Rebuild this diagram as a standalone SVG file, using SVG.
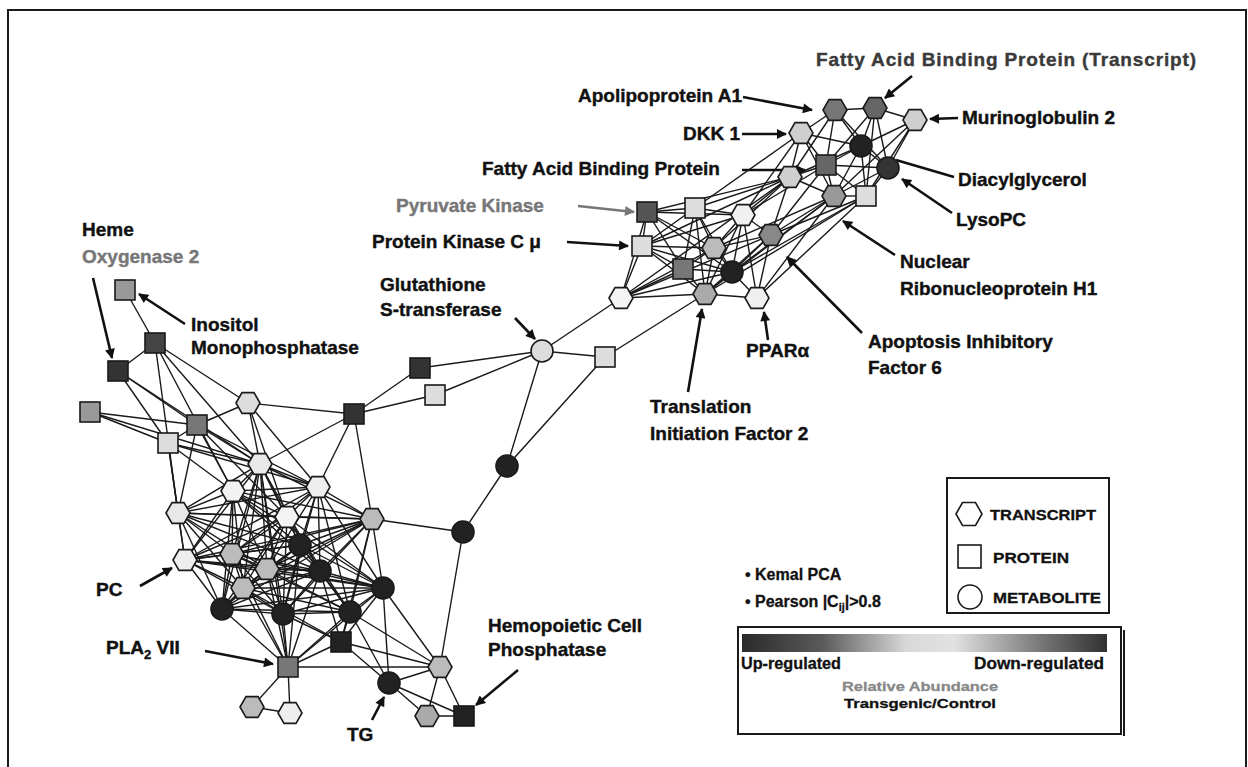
<svg xmlns="http://www.w3.org/2000/svg" xmlns:xlink="http://www.w3.org/1999/xlink" width="1248" height="767" viewBox="0 0 1248 767">
<style>
.lbl{font-family:"Liberation Sans",Arial,sans-serif;font-weight:bold;font-size:19px;fill:#111;stroke:#111;stroke-width:0.4}
.lbl .gl{fill:#777;stroke:#777}
.lbl .dl{fill:#3a3a3a;stroke:#3a3a3a}
.edges line{stroke:#1a1a1a;stroke-width:1.4}
.arr line{stroke:#111;stroke-width:2.6}
.node{stroke:#1a1a1a;stroke-width:1.6}
.lg{font-family:"Liberation Sans",Arial,sans-serif;font-weight:bold;fill:#111;stroke:#111;stroke-width:0.3}
</style>
<defs>
<polygon id="hex" points="-12,0 -6,-10.4 6,-10.4 12,0 6,10.4 -6,10.4"/>
<polygon id="lhex" points="-13,0 -6.5,-11.5 6.5,-11.5 13,0 6.5,11.5 -6.5,11.5"/>
<rect id="sq" x="-10" y="-10" width="20" height="20"/>
<circle id="met" r="11"/>
<marker id="ah" viewBox="0 0 10 10" refX="9" refY="5" markerUnits="userSpaceOnUse" markerWidth="12" markerHeight="10" orient="auto"><path d="M0,0 L10,5 L0,10 z" fill="#111"/></marker>
<marker id="ahg" viewBox="0 0 10 10" refX="9" refY="5" markerUnits="userSpaceOnUse" markerWidth="12" markerHeight="10" orient="auto"><path d="M0,0 L10,5 L0,10 z" fill="#777"/></marker>
<linearGradient id="grad" x1="0" y1="0" x2="1" y2="0">
<stop offset="0" stop-color="#2a2a2a"/><stop offset="0.22" stop-color="#5a5a5a"/><stop offset="0.45" stop-color="#d8d8d8"/><stop offset="0.58" stop-color="#e2e2e2"/><stop offset="0.82" stop-color="#777"/><stop offset="1" stop-color="#303030"/>
</linearGradient>
</defs>
<rect width="1248" height="767" fill="#fff"/>
<g id="frame" stroke="#1a1a1a" stroke-width="2" fill="none"><path d="M8,767 L8,10 L1246,10 L1246,767"/></g>

<g id="connectors" class="edges">
<line x1="835" y1="110" x2="875" y2="108"/><line x1="835" y1="110" x2="801" y2="133"/><line x1="835" y1="110" x2="861" y2="146"/><line x1="835" y1="110" x2="826" y2="165"/><line x1="835" y1="110" x2="888" y2="168"/><line x1="835" y1="110" x2="790" y2="177"/>
<line x1="875" y1="108" x2="915" y2="120"/><line x1="875" y1="108" x2="861" y2="146"/><line x1="875" y1="108" x2="826" y2="165"/><line x1="875" y1="108" x2="888" y2="168"/><line x1="875" y1="108" x2="866" y2="196"/>
<line x1="915" y1="120" x2="861" y2="146"/><line x1="915" y1="120" x2="888" y2="168"/><line x1="915" y1="120" x2="834" y2="196"/><line x1="915" y1="120" x2="866" y2="196"/>
<line x1="801" y1="133" x2="861" y2="146"/><line x1="801" y1="133" x2="826" y2="165"/><line x1="801" y1="133" x2="790" y2="177"/><line x1="801" y1="133" x2="834" y2="196"/>
<line x1="861" y1="146" x2="826" y2="165"/><line x1="861" y1="146" x2="888" y2="168"/><line x1="861" y1="146" x2="790" y2="177"/><line x1="861" y1="146" x2="834" y2="196"/><line x1="861" y1="146" x2="866" y2="196"/>
<line x1="826" y1="165" x2="888" y2="168"/><line x1="826" y1="165" x2="790" y2="177"/><line x1="826" y1="165" x2="834" y2="196"/><line x1="826" y1="165" x2="866" y2="196"/>
<line x1="888" y1="168" x2="834" y2="196"/><line x1="888" y1="168" x2="866" y2="196"/><line x1="790" y1="177" x2="834" y2="196"/><line x1="834" y1="196" x2="866" y2="196"/>
<line x1="801" y1="133" x2="695" y2="208"/><line x1="801" y1="133" x2="743" y2="215"/>
<line x1="790" y1="177" x2="647" y2="212"/><line x1="790" y1="177" x2="695" y2="208"/><line x1="790" y1="177" x2="743" y2="215"/><line x1="790" y1="177" x2="771" y2="235"/><line x1="790" y1="177" x2="714" y2="248"/><line x1="790" y1="177" x2="642" y2="246"/><line x1="790" y1="177" x2="621" y2="298"/>
<line x1="826" y1="165" x2="743" y2="215"/><line x1="826" y1="165" x2="771" y2="235"/>
<line x1="834" y1="196" x2="771" y2="235"/><line x1="834" y1="196" x2="714" y2="248"/><line x1="834" y1="196" x2="732" y2="272"/><line x1="834" y1="196" x2="757" y2="298"/><line x1="834" y1="196" x2="705" y2="294"/>
<line x1="866" y1="196" x2="771" y2="235"/><line x1="866" y1="196" x2="732" y2="272"/><line x1="866" y1="196" x2="757" y2="298"/><line x1="866" y1="196" x2="705" y2="294"/>
<line x1="647" y1="212" x2="695" y2="208"/><line x1="647" y1="212" x2="743" y2="215"/><line x1="647" y1="212" x2="714" y2="248"/><line x1="647" y1="212" x2="642" y2="246"/><line x1="647" y1="212" x2="683" y2="269"/><line x1="647" y1="212" x2="732" y2="272"/><line x1="647" y1="212" x2="621" y2="298"/>
<line x1="695" y1="208" x2="743" y2="215"/><line x1="695" y1="208" x2="714" y2="248"/><line x1="695" y1="208" x2="683" y2="269"/><line x1="695" y1="208" x2="732" y2="272"/><line x1="695" y1="208" x2="705" y2="294"/><line x1="695" y1="208" x2="642" y2="246"/>
<line x1="743" y1="215" x2="771" y2="235"/><line x1="743" y1="215" x2="714" y2="248"/><line x1="743" y1="215" x2="642" y2="246"/><line x1="743" y1="215" x2="732" y2="272"/><line x1="743" y1="215" x2="705" y2="294"/><line x1="743" y1="215" x2="757" y2="298"/>
<line x1="771" y1="235" x2="714" y2="248"/><line x1="771" y1="235" x2="732" y2="272"/><line x1="771" y1="235" x2="621" y2="298"/><line x1="771" y1="235" x2="705" y2="294"/><line x1="771" y1="235" x2="757" y2="298"/>
<line x1="714" y1="248" x2="642" y2="246"/><line x1="714" y1="248" x2="683" y2="269"/><line x1="714" y1="248" x2="732" y2="272"/><line x1="714" y1="248" x2="621" y2="298"/><line x1="714" y1="248" x2="705" y2="294"/>
<line x1="642" y1="246" x2="683" y2="269"/><line x1="642" y1="246" x2="732" y2="272"/><line x1="642" y1="246" x2="621" y2="298"/><line x1="642" y1="246" x2="705" y2="294"/>
<line x1="683" y1="269" x2="732" y2="272"/><line x1="683" y1="269" x2="621" y2="298"/><line x1="683" y1="269" x2="705" y2="294"/>
<line x1="732" y1="272" x2="621" y2="298"/><line x1="732" y1="272" x2="705" y2="294"/><line x1="732" y1="272" x2="757" y2="298"/>
<line x1="621" y1="298" x2="705" y2="294"/><line x1="705" y1="294" x2="757" y2="298"/>
<line x1="542" y1="351" x2="621" y2="298"/><line x1="542" y1="351" x2="605" y2="357"/><line x1="605" y1="357" x2="705" y2="294"/><line x1="542" y1="351" x2="420" y2="368"/><line x1="542" y1="351" x2="435" y2="395"/><line x1="542" y1="351" x2="507" y2="466"/><line x1="605" y1="357" x2="507" y2="466"/><line x1="507" y1="466" x2="463" y2="532"/><line x1="420" y1="368" x2="354" y2="414"/><line x1="435" y1="395" x2="354" y2="414"/><line x1="463" y1="532" x2="372" y2="519"/><line x1="463" y1="532" x2="440" y2="667"/>
<line x1="125" y1="290" x2="155" y2="343"/><line x1="155" y1="343" x2="118" y2="371"/><line x1="155" y1="343" x2="248" y2="403"/><line x1="155" y1="343" x2="178" y2="513"/><line x1="155" y1="343" x2="233" y2="491"/><line x1="155" y1="343" x2="260" y2="464"/>
<line x1="118" y1="371" x2="197" y2="425"/><line x1="118" y1="371" x2="168" y2="443"/><line x1="118" y1="371" x2="260" y2="464"/>
<line x1="90" y1="412" x2="197" y2="425"/><line x1="90" y1="412" x2="168" y2="443"/><line x1="90" y1="412" x2="260" y2="464"/>
<line x1="197" y1="425" x2="168" y2="443"/><line x1="197" y1="425" x2="248" y2="403"/><line x1="197" y1="425" x2="260" y2="464"/><line x1="197" y1="425" x2="233" y2="491"/><line x1="197" y1="425" x2="318" y2="487"/><line x1="197" y1="425" x2="178" y2="513"/><line x1="197" y1="425" x2="287" y2="517"/>
<line x1="168" y1="443" x2="260" y2="464"/><line x1="168" y1="443" x2="233" y2="491"/><line x1="168" y1="443" x2="318" y2="487"/><line x1="168" y1="443" x2="178" y2="513"/><line x1="168" y1="443" x2="185" y2="560"/>
<line x1="248" y1="403" x2="354" y2="414"/><line x1="248" y1="403" x2="260" y2="464"/><line x1="248" y1="403" x2="318" y2="487"/><line x1="248" y1="403" x2="287" y2="517"/>
<line x1="354" y1="414" x2="260" y2="464"/><line x1="354" y1="414" x2="318" y2="487"/><line x1="354" y1="414" x2="372" y2="519"/>
<line x1="260" y1="464" x2="233" y2="491"/><line x1="260" y1="464" x2="318" y2="487"/><line x1="260" y1="464" x2="178" y2="513"/><line x1="260" y1="464" x2="287" y2="517"/><line x1="260" y1="464" x2="372" y2="519"/><line x1="260" y1="464" x2="300" y2="545"/><line x1="260" y1="464" x2="185" y2="560"/><line x1="260" y1="464" x2="232" y2="554"/><line x1="260" y1="464" x2="320" y2="571"/><line x1="260" y1="464" x2="267" y2="569"/><line x1="260" y1="464" x2="243" y2="588"/><line x1="260" y1="464" x2="222" y2="609"/><line x1="260" y1="464" x2="283" y2="614"/><line x1="260" y1="464" x2="288" y2="667"/>
<line x1="233" y1="491" x2="318" y2="487"/><line x1="233" y1="491" x2="178" y2="513"/><line x1="233" y1="491" x2="287" y2="517"/><line x1="233" y1="491" x2="372" y2="519"/><line x1="233" y1="491" x2="300" y2="545"/><line x1="233" y1="491" x2="185" y2="560"/><line x1="233" y1="491" x2="232" y2="554"/><line x1="233" y1="491" x2="320" y2="571"/><line x1="233" y1="491" x2="267" y2="569"/><line x1="233" y1="491" x2="383" y2="588"/><line x1="233" y1="491" x2="243" y2="588"/><line x1="233" y1="491" x2="222" y2="609"/>
<line x1="318" y1="487" x2="178" y2="513"/><line x1="318" y1="487" x2="287" y2="517"/><line x1="318" y1="487" x2="372" y2="519"/><line x1="318" y1="487" x2="300" y2="545"/><line x1="318" y1="487" x2="185" y2="560"/><line x1="318" y1="487" x2="232" y2="554"/><line x1="318" y1="487" x2="320" y2="571"/><line x1="318" y1="487" x2="267" y2="569"/><line x1="318" y1="487" x2="383" y2="588"/><line x1="318" y1="487" x2="283" y2="614"/><line x1="318" y1="487" x2="350" y2="612"/>
<line x1="178" y1="513" x2="287" y2="517"/><line x1="178" y1="513" x2="372" y2="519"/><line x1="178" y1="513" x2="300" y2="545"/><line x1="178" y1="513" x2="185" y2="560"/><line x1="178" y1="513" x2="232" y2="554"/><line x1="178" y1="513" x2="320" y2="571"/><line x1="178" y1="513" x2="267" y2="569"/><line x1="178" y1="513" x2="243" y2="588"/><line x1="178" y1="513" x2="222" y2="609"/>
<line x1="287" y1="517" x2="372" y2="519"/><line x1="287" y1="517" x2="300" y2="545"/><line x1="287" y1="517" x2="185" y2="560"/><line x1="287" y1="517" x2="232" y2="554"/><line x1="287" y1="517" x2="320" y2="571"/><line x1="287" y1="517" x2="267" y2="569"/><line x1="287" y1="517" x2="383" y2="588"/><line x1="287" y1="517" x2="243" y2="588"/><line x1="287" y1="517" x2="222" y2="609"/><line x1="287" y1="517" x2="283" y2="614"/><line x1="287" y1="517" x2="350" y2="612"/>
<line x1="372" y1="519" x2="300" y2="545"/><line x1="372" y1="519" x2="185" y2="560"/><line x1="372" y1="519" x2="232" y2="554"/><line x1="372" y1="519" x2="320" y2="571"/><line x1="372" y1="519" x2="267" y2="569"/><line x1="372" y1="519" x2="383" y2="588"/><line x1="372" y1="519" x2="243" y2="588"/><line x1="372" y1="519" x2="222" y2="609"/><line x1="372" y1="519" x2="283" y2="614"/><line x1="372" y1="519" x2="350" y2="612"/><line x1="372" y1="519" x2="341" y2="642"/>
<line x1="300" y1="545" x2="185" y2="560"/><line x1="300" y1="545" x2="232" y2="554"/><line x1="300" y1="545" x2="320" y2="571"/><line x1="300" y1="545" x2="267" y2="569"/><line x1="300" y1="545" x2="383" y2="588"/><line x1="300" y1="545" x2="243" y2="588"/><line x1="300" y1="545" x2="222" y2="609"/><line x1="300" y1="545" x2="283" y2="614"/><line x1="300" y1="545" x2="350" y2="612"/><line x1="300" y1="545" x2="288" y2="667"/>
<line x1="185" y1="560" x2="232" y2="554"/><line x1="185" y1="560" x2="320" y2="571"/><line x1="185" y1="560" x2="267" y2="569"/><line x1="185" y1="560" x2="383" y2="588"/><line x1="185" y1="560" x2="243" y2="588"/><line x1="185" y1="560" x2="222" y2="609"/><line x1="185" y1="560" x2="283" y2="614"/>
<line x1="232" y1="554" x2="320" y2="571"/><line x1="232" y1="554" x2="267" y2="569"/><line x1="232" y1="554" x2="383" y2="588"/><line x1="232" y1="554" x2="243" y2="588"/><line x1="232" y1="554" x2="222" y2="609"/><line x1="232" y1="554" x2="283" y2="614"/><line x1="232" y1="554" x2="350" y2="612"/><line x1="232" y1="554" x2="288" y2="667"/>
<line x1="320" y1="571" x2="267" y2="569"/><line x1="320" y1="571" x2="383" y2="588"/><line x1="320" y1="571" x2="243" y2="588"/><line x1="320" y1="571" x2="222" y2="609"/><line x1="320" y1="571" x2="283" y2="614"/><line x1="320" y1="571" x2="350" y2="612"/><line x1="320" y1="571" x2="341" y2="642"/><line x1="320" y1="571" x2="288" y2="667"/>
<line x1="267" y1="569" x2="383" y2="588"/><line x1="267" y1="569" x2="243" y2="588"/><line x1="267" y1="569" x2="222" y2="609"/><line x1="267" y1="569" x2="283" y2="614"/><line x1="267" y1="569" x2="350" y2="612"/><line x1="267" y1="569" x2="288" y2="667"/>
<line x1="383" y1="588" x2="243" y2="588"/><line x1="383" y1="588" x2="222" y2="609"/><line x1="383" y1="588" x2="283" y2="614"/><line x1="383" y1="588" x2="350" y2="612"/><line x1="383" y1="588" x2="341" y2="642"/><line x1="383" y1="588" x2="288" y2="667"/><line x1="383" y1="588" x2="389" y2="683"/><line x1="383" y1="588" x2="440" y2="667"/>
<line x1="243" y1="588" x2="222" y2="609"/><line x1="243" y1="588" x2="283" y2="614"/><line x1="243" y1="588" x2="350" y2="612"/><line x1="243" y1="588" x2="341" y2="642"/><line x1="243" y1="588" x2="288" y2="667"/>
<line x1="222" y1="609" x2="283" y2="614"/><line x1="222" y1="609" x2="350" y2="612"/><line x1="222" y1="609" x2="288" y2="667"/>
<line x1="283" y1="614" x2="350" y2="612"/><line x1="283" y1="614" x2="341" y2="642"/><line x1="283" y1="614" x2="288" y2="667"/>
<line x1="350" y1="612" x2="341" y2="642"/><line x1="350" y1="612" x2="288" y2="667"/><line x1="350" y1="612" x2="389" y2="683"/><line x1="350" y1="612" x2="440" y2="667"/>
<line x1="341" y1="642" x2="288" y2="667"/><line x1="341" y1="642" x2="389" y2="683"/><line x1="341" y1="642" x2="440" y2="667"/>
<line x1="288" y1="667" x2="252" y2="707"/><line x1="288" y1="667" x2="290" y2="713"/><line x1="288" y1="667" x2="440" y2="667"/><line x1="252" y1="707" x2="290" y2="713"/>
<line x1="389" y1="683" x2="440" y2="667"/><line x1="389" y1="683" x2="427" y2="716"/><line x1="389" y1="683" x2="464" y2="716"/><line x1="440" y1="667" x2="427" y2="716"/><line x1="440" y1="667" x2="464" y2="716"/><line x1="427" y1="716" x2="464" y2="716"/>
</g>

<g id="label-arrows" class="arr">
<line x1="912" y1="76" x2="885" y2="98" marker-end="url(#ah)"/>
<line x1="743" y1="97" x2="812" y2="110" marker-end="url(#ah)"/>
<line x1="742" y1="134" x2="786" y2="134" marker-end="url(#ah)"/>
<line x1="958" y1="118" x2="930" y2="119" marker-end="url(#ah)"/>
<line x1="742" y1="170" x2="805" y2="170" marker-end="url(#ah)"/>
<line x1="954" y1="177" x2="896" y2="160"/>
<line x1="952" y1="213" x2="902" y2="179" marker-end="url(#ah)"/>
<line x1="578" y1="206" x2="634" y2="212" marker-end="url(#ahg)" style="stroke:#777"/>
<line x1="567" y1="242" x2="628" y2="246" marker-end="url(#ah)"/>
<line x1="895" y1="255" x2="843" y2="221" marker-end="url(#ah)"/>
<line x1="515" y1="318" x2="535" y2="339" marker-end="url(#ah)"/>
<line x1="93" y1="278" x2="112" y2="358" marker-end="url(#ah)"/>
<line x1="185" y1="324" x2="139" y2="294" marker-end="url(#ah)"/>
<line x1="688" y1="392" x2="702" y2="309" marker-end="url(#ah)"/>
<line x1="768" y1="340" x2="764" y2="312" marker-end="url(#ah)"/>
<line x1="862" y1="333" x2="787" y2="257" marker-end="url(#ah)"/>
<line x1="140" y1="586" x2="172" y2="568" marker-end="url(#ah)"/>
<line x1="205" y1="651" x2="273" y2="664" marker-end="url(#ah)"/>
<line x1="372" y1="720" x2="384" y2="697" marker-end="url(#ah)"/>
<line x1="518" y1="670" x2="476" y2="705" marker-end="url(#ah)"/>
</g>

<g id="nodes" class="node">
<g id="R1"><use xlink:href="#hex" x="835" y="110" fill="#777"/></g>
<g id="R2"><use xlink:href="#hex" x="875" y="108" fill="#666"/></g>
<g id="R3"><use xlink:href="#hex" x="915" y="120" fill="#cfcfcf"/></g>
<g id="R4"><use xlink:href="#hex" x="801" y="133" fill="#cfcfcf"/></g>
<g id="R5"><use xlink:href="#met" x="861" y="146" fill="#222"/></g>
<g id="R6"><use xlink:href="#sq" x="826" y="165" fill="#666"/></g>
<g id="R7"><use xlink:href="#met" x="888" y="168" fill="#333"/></g>
<g id="R8"><use xlink:href="#hex" x="790" y="177" fill="#cfcfcf"/></g>
<g id="R9"><use xlink:href="#hex" x="834" y="196" fill="#999"/></g>
<g id="R10"><use xlink:href="#sq" x="866" y="196" fill="#ddd"/></g>
<g id="R11"><use xlink:href="#sq" x="647" y="212" fill="#555"/></g>
<g id="R12"><use xlink:href="#sq" x="695" y="208" fill="#ddd"/></g>
<g id="R13"><use xlink:href="#hex" x="743" y="215" fill="#f0f0f0"/></g>
<g id="R14"><use xlink:href="#hex" x="771" y="235" fill="#888"/></g>
<g id="R15"><use xlink:href="#hex" x="714" y="248" fill="#bbb"/></g>
<g id="R16"><use xlink:href="#sq" x="642" y="246" fill="#ddd"/></g>
<g id="R17"><use xlink:href="#sq" x="683" y="269" fill="#777"/></g>
<g id="R18"><use xlink:href="#met" x="732" y="272" fill="#222"/></g>
<g id="R19"><use xlink:href="#hex" x="621" y="298" fill="#f4f4f4"/></g>
<g id="R20"><use xlink:href="#hex" x="705" y="294" fill="#aaa"/></g>
<g id="R21"><use xlink:href="#hex" x="757" y="298" fill="#f0f0f0"/></g>
<g id="B1"><use xlink:href="#met" x="542" y="351" fill="#ddd"/></g>
<g id="B2"><use xlink:href="#sq" x="605" y="357" fill="#ddd"/></g>
<g id="B3"><use xlink:href="#sq" x="420" y="368" fill="#333"/></g>
<g id="B4"><use xlink:href="#sq" x="435" y="395" fill="#ddd"/></g>
<g id="B5"><use xlink:href="#met" x="507" y="466" fill="#222"/></g>
<g id="B6"><use xlink:href="#met" x="463" y="532" fill="#222"/></g>
<g id="N1"><use xlink:href="#sq" x="125" y="290" fill="#999"/></g>
<g id="N2"><use xlink:href="#sq" x="155" y="343" fill="#444"/></g>
<g id="N3"><use xlink:href="#sq" x="118" y="371" fill="#333"/></g>
<g id="N4"><use xlink:href="#sq" x="90" y="412" fill="#999"/></g>
<g id="N5"><use xlink:href="#sq" x="197" y="425" fill="#777"/></g>
<g id="N6"><use xlink:href="#sq" x="168" y="443" fill="#ddd"/></g>
<g id="N7"><use xlink:href="#hex" x="248" y="403" fill="#ddd"/></g>
<g id="N8"><use xlink:href="#sq" x="354" y="414" fill="#333"/></g>
<g id="L1"><use xlink:href="#hex" x="260" y="464" fill="#e8e8e8"/></g>
<g id="L2"><use xlink:href="#hex" x="233" y="491" fill="#f2f2f2"/></g>
<g id="L3"><use xlink:href="#hex" x="318" y="487" fill="#eee"/></g>
<g id="L4"><use xlink:href="#hex" x="178" y="513" fill="#e8e8e8"/></g>
<g id="L5"><use xlink:href="#hex" x="287" y="517" fill="#f4f4f4"/></g>
<g id="L6"><use xlink:href="#hex" x="372" y="519" fill="#bbb"/></g>
<g id="L7"><use xlink:href="#met" x="300" y="545" fill="#222"/></g>
<g id="L8"><use xlink:href="#hex" x="185" y="560" fill="#eee"/></g>
<g id="L9"><use xlink:href="#hex" x="232" y="554" fill="#bbb"/></g>
<g id="L10"><use xlink:href="#met" x="320" y="571" fill="#222"/></g>
<g id="L11"><use xlink:href="#hex" x="267" y="569" fill="#bbb"/></g>
<g id="L12"><use xlink:href="#met" x="383" y="588" fill="#222"/></g>
<g id="L13"><use xlink:href="#hex" x="243" y="588" fill="#bbb"/></g>
<g id="L14"><use xlink:href="#met" x="222" y="609" fill="#222"/></g>
<g id="L15"><use xlink:href="#met" x="283" y="614" fill="#222"/></g>
<g id="L16"><use xlink:href="#met" x="350" y="612" fill="#222"/></g>
<g id="L17"><use xlink:href="#sq" x="341" y="642" fill="#222"/></g>
<g id="L18"><use xlink:href="#sq" x="288" y="667" fill="#777"/></g>
<g id="L19"><use xlink:href="#hex" x="252" y="707" fill="#bbb"/></g>
<g id="L20"><use xlink:href="#hex" x="290" y="713" fill="#eee"/></g>
<g id="L21"><use xlink:href="#met" x="389" y="683" fill="#222"/></g>
<g id="L22"><use xlink:href="#hex" x="440" y="667" fill="#bbb"/></g>
<g id="L23"><use xlink:href="#hex" x="427" y="716" fill="#aaa"/></g>
<g id="L24"><use xlink:href="#sq" x="464" y="716" fill="#222"/></g>
</g>

<g id="labels" class="lbl">
<text x="816" y="66" class="dl" textLength="380" lengthAdjust="spacing">Fatty Acid Binding Protein (Transcript)</text>
<text x="578" y="102">Apolipoprotein A1</text>
<text x="683" y="140">DKK 1</text>
<text x="962" y="124">Murinoglobulin 2</text>
<text x="482" y="175">Fatty Acid Binding Protein</text>
<text x="958" y="186">Diacylglycerol</text>
<text x="956" y="226">LysoPC</text>
<text x="396" y="212" class="gl">Pyruvate Kinase</text>
<text x="372" y="248">Protein Kinase C μ</text>
<text x="900" y="268">Nuclear</text>
<text x="900" y="295">Ribonucleoprotein H1</text>
<text x="380" y="291">Glutathione</text>
<text x="380" y="316">S-transferase</text>
<text x="82" y="236">Heme</text>
<text x="82" y="263" class="gl">Oxygenase 2</text>
<text x="191" y="331">Inositol</text>
<text x="191" y="354">Monophosphatase</text>
<text x="650" y="413">Translation</text>
<text x="650" y="440">Initiation Factor 2</text>
<text x="746" y="357">PPARα</text>
<text x="868" y="348">Apoptosis Inhibitory</text>
<text x="868" y="374">Factor 6</text>
<text x="96" y="596">PC</text>
<text x="106" y="654">PLA<tspan font-size="13" dy="5">2</tspan><tspan dy="-5"> VII</tspan></text>
<text x="347" y="741">TG</text>
<text x="488" y="632">Hemopoietic Cell</text>
<text x="488" y="656">Phosphatase</text>
</g>

<g id="legend-method" class="lg" style="font-size:16px">
<text x="745" y="580">• Kemal PCA</text>
<text x="745" y="607">• Pearson  |C<tspan style="font-size:11px" dy="4">ij</tspan><tspan dy="-4">|&gt;0.8</tspan></text>
</g>

<g id="legend-shapes">
<rect x="947" y="478" width="162" height="135" fill="#fff" stroke="#1a1a1a" stroke-width="2"/>
<use xlink:href="#lhex" x="969" y="514" fill="#fff" stroke="#1a1a1a" stroke-width="1.6"/>
<text x="990" y="520" class="lg" style="font-size:15px" textLength="106" lengthAdjust="spacingAndGlyphs">TRANSCRIPT</text>
<rect x="958" y="545" width="23" height="23" fill="#fff" stroke="#1a1a1a" stroke-width="1.6"/>
<text x="993" y="563" class="lg" style="font-size:15px" textLength="76" lengthAdjust="spacingAndGlyphs">PROTEIN</text>
<circle cx="970" cy="597" r="12" fill="#fff" stroke="#1a1a1a" stroke-width="1.6"/>
<text x="993" y="603" class="lg" style="font-size:15px" textLength="108" lengthAdjust="spacingAndGlyphs">METABOLITE</text>
</g>

<g id="legend-scale">
<rect x="738" y="627" width="383" height="107" fill="#fff" stroke="#1a1a1a" stroke-width="2"/>
<line x1="1124" y1="630" x2="1124" y2="736" stroke="#1a1a1a" stroke-width="2"/>
<rect x="742" y="634" width="365" height="18" fill="url(#grad)"/>
<text x="741" y="669" class="lg" style="font-size:16px" textLength="100" lengthAdjust="spacingAndGlyphs">Up-regulated</text>
<text x="974" y="669" class="lg" style="font-size:16px" textLength="130" lengthAdjust="spacingAndGlyphs">Down-regulated</text>
<text x="842" y="691" class="lg" style="font-size:13px;fill:#888;stroke:#888" textLength="156" lengthAdjust="spacingAndGlyphs">Relative Abundance</text>
<text x="844" y="708" class="lg" style="font-size:13px" textLength="152" lengthAdjust="spacingAndGlyphs">Transgenic/Control</text>
</g>
</svg>
